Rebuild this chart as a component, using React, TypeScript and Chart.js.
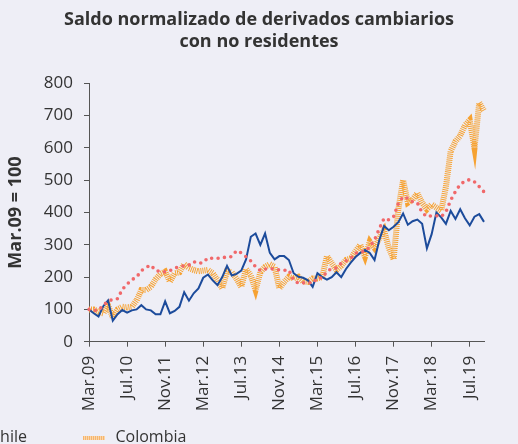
import React, { useEffect, useRef } from 'react';
import { Chart, registerables } from 'chart.js';

Chart.register(...registerables);

const BG = '#eeeef6';
const TEXT = '#333333';
const FONT = '"Open Sans", "Noto Sans", sans-serif';

const titleLines = ['Saldo normalizado de derivados cambiarios', 'con no residentes'];
const yAxisTitle = 'Mar.09 = 100';
const tickLabels = ['Mar.09', 'Jul.10', 'Nov.11', 'Mar.12', 'Jul.13', 'Nov.14', 'Mar.15', 'Jul.16', 'Nov.17', 'Mar.18', 'Jul.19'];
const pointsPerTick = 8;

const chile = [
  100, 88, 78, 110, 128, 65, 85, 98, 90, 97,
  100, 113, 100, 97, 85, 85, 125, 88, 95, 108,
  153, 127, 150, 165, 198, 208, 190, 175, 200, 235,
  205, 210, 220, 255, 325, 335, 300, 335, 275, 255,
  265, 265, 253, 212, 201, 198, 190, 170, 212, 200,
  192, 200, 215, 200, 225, 245, 262, 275, 284, 275,
  253, 315, 358, 345, 356, 370, 397, 362, 373, 378,
  365, 289, 333, 400, 385, 365, 405, 380, 410, 382,
  360, 387, 395, 371,
];

const colombia = [
  100, 100, 92, 88, 112, 75, 100, 108, 106, 108,
  128, 160, 160, 170, 193, 210, 217, 186, 212, 215,
  240, 228, 222, 218, 220, 222, 212, 191, 165, 218,
  215, 195, 170, 225, 205, 160, 215, 232, 240, 232,
  165, 185, 201, 196, 201, 186, 185, 196, 196, 200,
  265, 243, 222, 235, 253, 258, 280, 300, 263, 310,
  290, 320, 345, 290, 255, 410, 500, 430, 440, 460,
  430, 410, 425, 415, 405, 480, 590, 620, 638, 670,
  686, 600, 740, 715,
];

const tercerPais = [
  100, 97, 97, 113, 125, 131, 133, 162, 178, 192,
  200, 220, 230, 237, 220, 218, 216, 220, 228, 232,
  235, 237, 248, 242, 245, 260, 258, 258, 262, 260,
  264, 282, 275, 263, 250, 232, 220, 225, 226, 225,
  222, 221, 222, 190, 181, 182, 184, 181, 197, 197,
  217, 227, 228, 243, 250, 258, 274, 278, 280, 294,
  315, 350, 382, 377, 387, 428, 449, 444, 433, 430,
  400, 387, 390, 390, 387, 402, 438, 465, 487, 497,
  502, 495, 480, 464,
];

const categories = chile.map((_, i) => (i % pointsPerTick === 0 ? tickLabels[i / pointsPerTick] : ''));

export default function App() {
  const ref = useRef<HTMLCanvasElement>(null);

  useEffect(() => {
    document.body.style.margin = '0';
    document.body.style.background = BG;
    const canvas = ref.current!;
    const chart = new Chart(canvas, {
      type: 'line',
      data: {
        labels: categories,
        datasets: [
          {
            label: 'Chile',
            data: chile,
            borderColor: '#1c4b9b',
            borderWidth: 2,
            pointRadius: 0,
            tension: 0,
            order: 2,
          },
          {
            label: 'Colombia',
            data: colombia,
            borderColor: '#f6a232',
            borderWidth: 6,
            borderDash: [1, 1],
            borderCapStyle: 'butt',
            pointRadius: 0,
            tension: 0,
            order: 3,
          },
          {
            label: 'Perú',
            data: tercerPais,
            borderColor: '#f0686a',
            borderWidth: 3.6,
            borderDash: [0, 6.5],
            borderCapStyle: 'round',
            pointRadius: 0,
            tension: 0,
            order: 1,
          },
        ],
      },
      options: {
        responsive: false,
        animation: false,
        layout: { padding: { left: 0, right: 0, top: 0, bottom: 32.3 } },
        plugins: {
          legend: { display: false },
          tooltip: { enabled: false },
          title: {
            display: true,
            text: titleLines,
            color: TEXT,
            font: { family: FONT, size: 18, weight: 'bold', lineHeight: 1.22 },
            padding: { top: 8.5, bottom: 30.9 },
          },
        },
        scales: {
          x: {
            type: 'category',
            offset: false,
            grid: { drawOnChartArea: false, drawTicks: true, tickLength: 5, color: '#555' },
            border: { display: true, color: '#555', width: 1 },
            ticks: {
              autoSkip: false,
              minRotation: 90,
              maxRotation: 90,
              padding: 9,
              color: TEXT,
              font: { family: FONT, size: 17 },
              callback: (_v: any, index: number) => (categories[index] ? categories[index] : null),
            },
            afterFit: (s: any) => {
              s.height = 70;
            },
          },
          y: {
            min: 0,
            max: 800,
            grid: { drawOnChartArea: false, drawTicks: true, tickLength: 5, color: '#555' },
            border: { display: true, color: '#555', width: 1 },
            ticks: {
              stepSize: 100,
              padding: 11,
              color: TEXT,
              font: { family: FONT, size: 17 },
            },
            title: {
              display: true,
              text: yAxisTitle,
              color: TEXT,
              font: { family: FONT, size: 18, weight: 'bold' },
              padding: { top: 5, bottom: 0 },
            },
            afterFit: (s: any) => {
              s.width = 89;
            },
          },
          yRight: {
            position: 'right',
            display: true,
            grid: { display: false },
            border: { display: false },
            ticks: { display: false },
            afterFit: (s: any) => {
              s.width = 34;
            },
          },
        },
      },
    } as any);
    return () => chart.destroy();
  }, []);

  const textStyle: React.CSSProperties = {
    position: 'absolute',
    top: 425.3,
    fontFamily: FONT,
    fontSize: 16,
    lineHeight: '22px',
    color: TEXT,
    whiteSpace: 'nowrap',
  };

  return (
    <div style={{ position: 'relative', width: 518, height: 444, background: BG, overflow: 'hidden' }}>
      <canvas ref={ref} width={518} height={444} style={{ position: 'absolute', left: 0, top: 0 }} />
      <div style={{ position: 'absolute', left: -42, top: 436, width: 22, height: 2, background: '#1c4b9b' }} />
      <span style={{ ...textStyle, left: -10 }}>Chile</span>
      <div
        style={{
          position: 'absolute',
          left: 83,
          top: 435.5,
          width: 22,
          height: 4,
          background: 'repeating-linear-gradient(90deg, #f5b56e 0px, #f5b56e 1px, #fbd6aa 1px, #fbd6aa 2px)',
        }}
      />
      <span style={{ ...textStyle, left: 115.5 }}>Colombia</span>
    </div>
  );
}
